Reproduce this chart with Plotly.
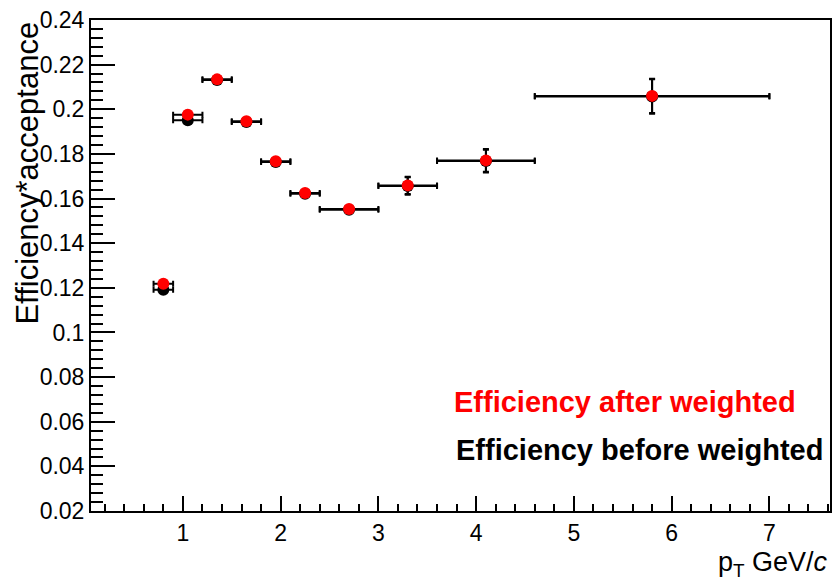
import plotly.graph_objects as go

# Data (pT bins)
pt = [0.8, 1.05, 1.35, 1.65, 1.95, 2.25, 2.7, 3.3, 4.1, 5.8]
pt_err = [0.1, 0.15, 0.15, 0.15, 0.15, 0.15, 0.3, 0.3, 0.5, 1.2]
eff_after = [0.1218, 0.1976, 0.2134, 0.1946, 0.1767, 0.1625, 0.1553, 0.1659, 0.1771, 0.2060]
eff_after_err = [0.0008, 0.0010, 0.0010, 0.0010, 0.0012, 0.0014, 0.0012, 0.0039, 0.0051, 0.0077]
eff_before = [0.1191, 0.1951, 0.2131, 0.1943, 0.1764, 0.1622, 0.1550, 0.1656, 0.1768, 0.2057]
eff_before_err = [0.0008, 0.0010, 0.0010, 0.0010, 0.0012, 0.0014, 0.0012, 0.0039, 0.0051, 0.0077]

FONT = "Liberation Sans, Arial, sans-serif"

fig = go.Figure()
for yv, ye, col in [(eff_before, eff_before_err, "black"), (eff_after, eff_after_err, "red")]:
    fig.add_trace(go.Scatter(
        x=pt, y=yv, mode="markers",
        marker=dict(color=col, size=12, line=dict(width=0)),
        error_x=dict(type="data", array=pt_err, color="black", thickness=2, width=3),
        error_y=dict(type="data", array=ye, color="black", thickness=2, width=3),
        showlegend=False,
    ))

fig.update_layout(
    width=837, height=582,
    margin=dict(l=91, r=5, t=20, b=71),
    plot_bgcolor="white", paper_bgcolor="white",
    font=dict(family=FONT, color="black"),
)
fig.update_xaxes(
    range=[0.06, 7.62], showgrid=False, zeroline=False,
    showline=True, linecolor="black", linewidth=2, mirror=True,
    ticks="inside", ticklen=15, tickwidth=1.5, tickcolor="black",
    tickvals=[1, 2, 3, 4, 5, 6, 7],
    tickfont=dict(size=23, family=FONT),
    minor=dict(ticks="inside", ticklen=7, tickwidth=1.5, tickcolor="black", dtick=0.2, tick0=0),
)
fig.update_yaxes(
    range=[0.02, 0.24], showgrid=False, zeroline=False,
    showline=True, linecolor="black", linewidth=2, mirror=True,
    ticks="inside", ticklen=24, tickwidth=1.5, tickcolor="black",
    tickvals=[0.02, 0.04, 0.06, 0.08, 0.1, 0.12, 0.14, 0.16, 0.18, 0.2, 0.22, 0.24],
    ticktext=["0.02", "0.04", "0.06", "0.08", "0.1", "0.12", "0.14", "0.16", "0.18", "0.2", "0.22", "0.24"],
    tickfont=dict(size=23, family=FONT),
    minor=dict(ticks="inside", ticklen=12, tickwidth=1.5, tickcolor="black", dtick=0.004, tick0=0),
)

fig.add_annotation(
    text="Efficiency*acceptance", textangle=-90,
    xref="paper", yref="paper", x=-0.0865, y=1.0,
    xanchor="center", yanchor="top", showarrow=False,
    font=dict(size=31, family=FONT, color="black"),
)
fig.add_annotation(
    text="p<sub>T</sub> GeV/<i>c</i>",
    xref="paper", yref="paper", x=1.0, y=-0.108,
    xanchor="right", yanchor="middle", showarrow=False,
    font=dict(size=27, family=FONT, color="black"),
)
fig.add_annotation(
    text="<b>Efficiency after weighted</b>",
    xref="paper", yref="paper", x=0.4885, y=0.222,
    xanchor="left", yanchor="middle", showarrow=False,
    font=dict(size=29, family=FONT, color="red"),
)
fig.add_annotation(
    text="<b>Efficiency before weighted</b>",
    xref="paper", yref="paper", x=0.491, y=0.124,
    xanchor="left", yanchor="middle", showarrow=False,
    font=dict(size=29, family=FONT, color="black"),
)

fig.write_html("out.html")
